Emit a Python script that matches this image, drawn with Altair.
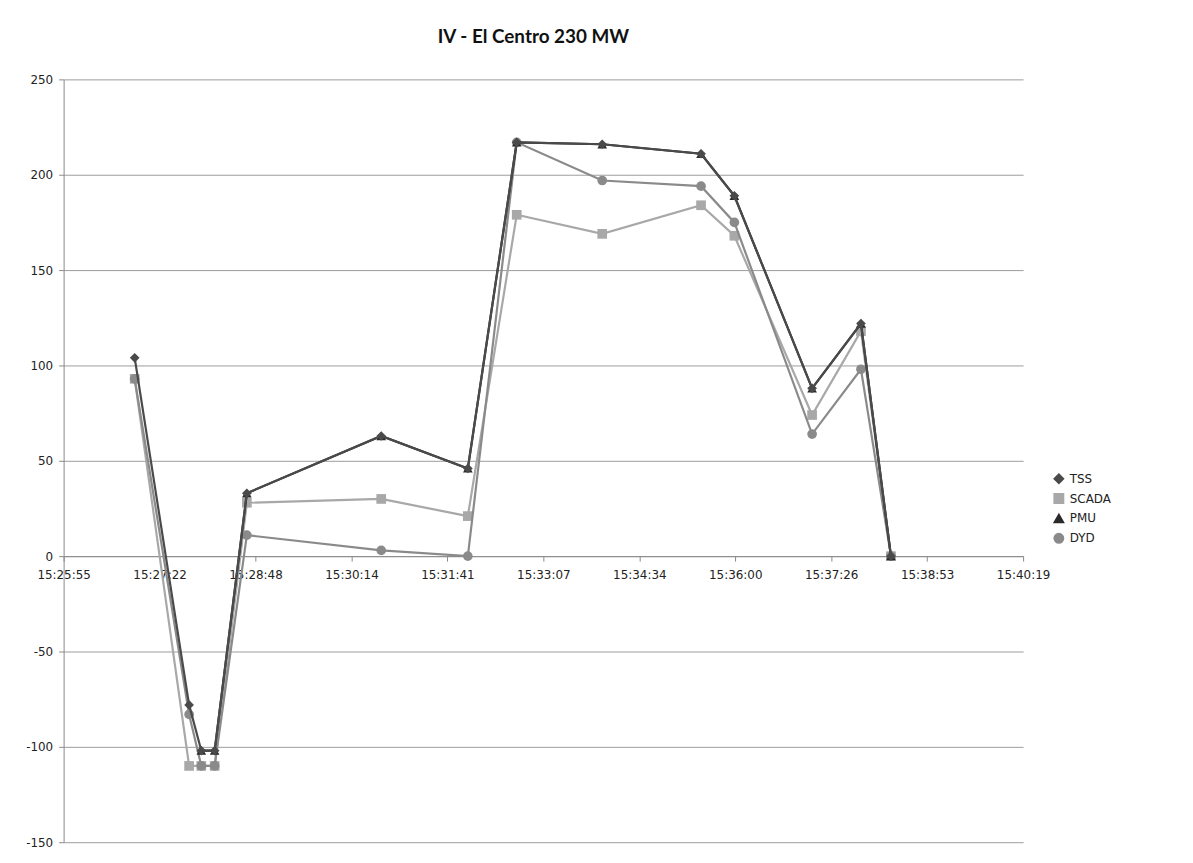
import altair as alt
import pandas as pd

# ---- data ----
times = ["15:26:59", "15:27:48", "15:27:59", "15:28:11", "15:28:40", "15:30:41",
         "15:31:59", "15:32:43", "15:34:00", "15:35:29", "15:35:59", "15:37:09",
         "15:37:53", "15:38:20"]
tss = [104, -78, -102, -102, 33, 63, 46, 217, 216, 211, 189, 88, 122, 0]
scada = [93, -110, -110, -110, 28, 30, 21, 179, 169, 184, 168, 74, 118, 0]
pmu = [None, None, -102, -102, 33, 63, 46, 217, 216, 211, 189, 88, 122, 0]
dyd = [93, -83, -110, -110, 11, 3, 0, 217, 197, 194, 175, 64, 98, 0]

series_names = ["TSS", "SCADA", "PMU", "DYD"]
series_colors = ["#4a4a4a", "#a8a8a8", "#2a2a2a", "#8a8a8a"]
series_shapes = ["diamond", "square", "triangle-up", "circle"]
draw_order = ["SCADA", "DYD", "PMU", "TSS"]

x_start = "15:25:55"
tick_labels = ["15:25:55", "15:27:22", "15:28:48", "15:30:14", "15:31:41", "15:33:07",
               "15:34:34", "15:36:00", "15:37:26", "15:38:53", "15:40:19"]
y_ticks = [-150, -100, -50, 0, 50, 100, 150, 200, 250]
tick_step = 86.4


def to_sec(s):
    h, m, sec = [int(p) for p in s.split(":")]
    return h * 3600 + m * 60 + sec


t0 = to_sec(x_start)
rows = []
for name, vals in zip(series_names, [tss, scada, pmu, dyd]):
    for t, v in zip(times, vals):
        if v is not None:
            rows.append({"t": to_sec(t) - t0, "value": v, "series": name})
df = pd.DataFrame(rows)

tick_vals = [round(i * tick_step, 1) for i in range(len(tick_labels))]
label_expr = "[" + ",".join("'%s'" % s for s in tick_labels) + "][round(datum.value/%s)]" % tick_step

W, H = 966, 768
zero_offset = -H * (0 - (-150)) / (250 - (-150))

legend = alt.Legend(title=None, orient="none", legendX=996, legendY=396,
                    labelFontSize=12, labelFont="DejaVu Sans", labelColor="#222",
                    symbolSize=90, rowPadding=4, labelOffset=5)
color = alt.Color("series:N", scale=alt.Scale(domain=series_names, range=series_colors),
                  legend=legend)
shape = alt.Shape("series:N", scale=alt.Scale(domain=series_names, range=series_shapes),
                  legend=legend)

x = alt.X("t:Q", scale=alt.Scale(domain=[0, tick_step * 10], nice=False, zero=False),
          axis=alt.Axis(title=None, values=tick_vals, labelExpr=label_expr, grid=False,
                        offset=zero_offset, domainColor="#8a8a8a", tickColor="#8a8a8a",
                        tickSize=5, labelFontSize=12, labelFont="DejaVu Sans",
                        labelColor="#222", labelPadding=9, labelFlush=False))
y = alt.Y("value:Q", scale=alt.Scale(domain=[-150, 250], nice=False),
          axis=alt.Axis(title=None, values=y_ticks, grid=True, gridColor="#9c9c9c",
                        domainColor="#8a8a8a", tickColor="#8a8a8a", tickSize=5,
                        labelFontSize=12, labelFont="DejaVu Sans", labelColor="#222",
                        labelPadding=6,
                        labelExpr="(datum.value < 0 ? '-' : '') + abs(datum.value)"))

layers = []
for name in draw_order:
    b = alt.Chart(df).transform_filter(alt.datum.series == name)
    layers.append(b.mark_line(strokeWidth=2.2).encode(x=x, y=y, color=color))
    layers.append(b.mark_point(filled=True, size=95, opacity=1).encode(
        x=x, y=y, color=color, shape=shape))

chart = alt.layer(*layers).properties(
    width=W, height=H,
    background="white",
    title=alt.TitleParams("IV - El Centro 230 MW", font="Lato", fontSize=19,
                          fontWeight="bold", color="#111", anchor="middle", dx=-10, offset=27),
    autosize=alt.AutoSizeParams(type="none"),
    padding={"left": 56, "top": 69, "right": 163, "bottom": 10},
).configure_view(strokeWidth=0, stroke="transparent")

chart.save("out.html", embed_options={"renderer": "svg", "actions": False})
